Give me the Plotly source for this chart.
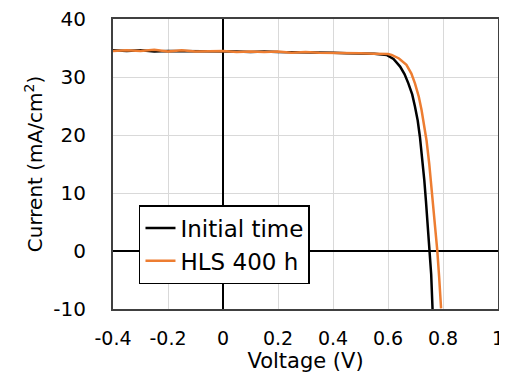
import plotly.graph_objects as go

init_v = [-0.40, -0.35, -0.30, -0.25, -0.20, -0.15, -0.10, -0.05, 0.00, 0.05, 0.10, 0.15, 0.20, 0.25,
          0.30, 0.35, 0.40, 0.45, 0.50, 0.55, 0.595, 0.62, 0.644, 0.66, 0.674, 0.688, 0.698, 0.708,
          0.716, 0.725, 0.732, 0.738, 0.744, 0.753, 0.757, 0.762]
init_j = [34.6, 34.5, 34.6, 34.4, 34.5, 34.5, 34.4, 34.5, 34.4, 34.4, 34.3, 34.4, 34.3, 34.3,
          34.2, 34.3, 34.2, 34.1, 34.1, 34.0, 33.8, 33.1, 31.8, 30.5, 28.9, 27.0, 24.9, 22.5,
          19.7, 16.0, 12.2, 8.6, 4.8, 0.2, -4.0, -10.0]

hls_v = [-0.40, -0.35, -0.30, -0.25, -0.20, -0.15, -0.10, -0.05, 0.00, 0.05, 0.10, 0.15, 0.20, 0.25,
         0.30, 0.35, 0.40, 0.45, 0.50, 0.55, 0.60, 0.613, 0.64, 0.667, 0.685, 0.698, 0.712, 0.722,
         0.732, 0.740, 0.750, 0.758, 0.765, 0.771, 0.779, 0.786, 0.793]
hls_j = [34.5, 34.6, 34.5, 34.7, 34.4, 34.6, 34.4, 34.4, 34.5, 34.3, 34.4, 34.3, 34.4, 34.2,
         34.3, 34.2, 34.2, 34.2, 34.1, 34.0, 33.95, 33.8, 33.2, 32.1, 30.6, 28.9, 26.6, 24.3,
         21.6, 19.1, 15.0, 11.1, 7.8, 4.8, 0.2, -4.5, -9.9]

x_ticks = [-0.4, -0.2, 0, 0.2, 0.4, 0.6, 0.8, 1]
x_labels = ["-0.4", "-0.2", "0", "0.2", "0.4", "0.6", "0.8", "1"]
y_ticks = [-10, 0, 10, 20, 30, 40]
y_labels = ["-10", "0", "10", "20", "30", "40"]

fig = go.Figure()
fig.add_trace(go.Scatter(x=init_v, y=init_j, mode="lines", name="Initial time",
                         line=dict(color="black", width=2.5)))
fig.add_trace(go.Scatter(x=hls_v, y=hls_j, mode="lines", name="HLS 400 h",
                         line=dict(color="#ED7D31", width=2.5)))

font_family = "DejaVu Sans, sans-serif"
# page body has an 8px margin: figure is sized to fit the 507x373 window
fig.update_layout(
    width=499, height=365,
    margin=dict(l=105, r=9, t=11, b=64),
    paper_bgcolor="white", plot_bgcolor="white",
    font=dict(family=font_family, color="black", size=20),
    showlegend=True,
    legend=dict(x=0.0675, y=0.3586, xanchor="left", yanchor="top",
                bgcolor="white", bordercolor="black", borderwidth=1.5,
                font=dict(size=23, family=font_family), itemwidth=30,
                tracegroupgap=0),
    xaxis=dict(range=[-0.4, 1], tickvals=x_ticks, ticktext=x_labels,
               showgrid=True, gridcolor="#d9d9d9", gridwidth=1,
               zeroline=True, zerolinecolor="black", zerolinewidth=2,
               showline=True, linecolor="#404040", linewidth=2, mirror=True,
               ticks="", ticklabelstandoff=11,
               automargin=False, ticklabeloverflow="allow",
               title=dict(text="Voltage (V)", font=dict(size=21), standoff=4),
               tickfont=dict(size=19)),
    yaxis=dict(range=[-10, 40], tickvals=y_ticks, ticktext=y_labels,
               showgrid=True, gridcolor="#d9d9d9", gridwidth=1,
               zeroline=True, zerolinecolor="black", zerolinewidth=2,
               showline=True, linecolor="#404040", linewidth=2, mirror=True,
               ticks="", ticklabelstandoff=21,
               automargin=False, ticklabeloverflow="allow",
               title=dict(text="Current (mA/cm<sup>2</sup>)", font=dict(size=20), standoff=5),
               tickfont=dict(size=20)),
)

fig.write_html("out.html")
